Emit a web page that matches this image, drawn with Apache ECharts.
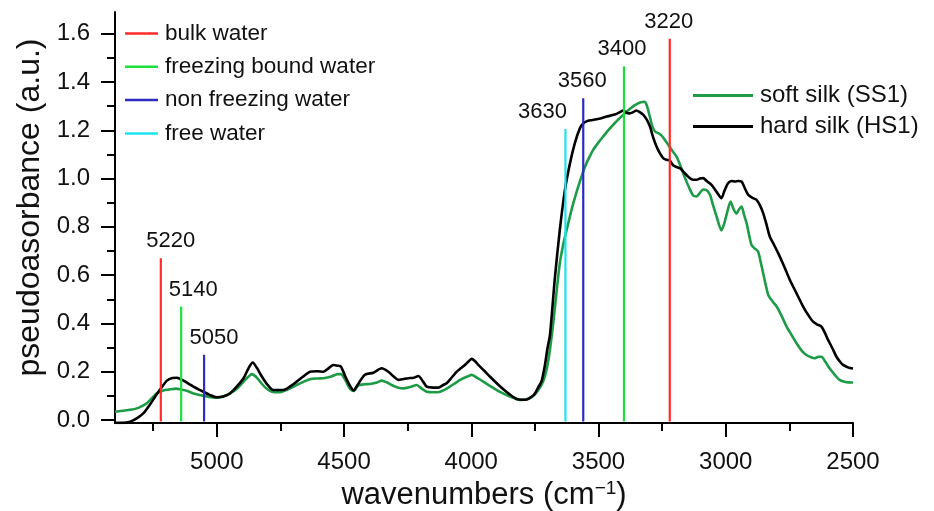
<!DOCTYPE html>
<html><head><meta charset="utf-8">
<script src="https://cdn.jsdelivr.net/npm/echarts@6/dist/echarts.min.js"></script>
<style>html,body{margin:0;padding:0;background:#fff}#c{width:934px;height:511px}</style>
</head><body><div id="c"></div><script>
// ---- data ----
const softWn = [5400,5370,5340,5314,5290,5275,5255,5236,5210,5183,5160,5144,5115,5092,5060,5039,5000,4975,4948,4920,4895,4875,4862,4845,4830,4810,4784,4751,4720,4686,4660,4634,4600,4581,4550,4525,4512,4495,4476,4463,4444,4420,4398,4370,4352,4330,4313,4290,4267,4240,4214,4195,4175,4150,4130,4105,4084,4060,4038,4015,3998,3975,3953,3925,3900,3875,3848,3825,3809,3790,3770,3750,3737,3724,3711,3700,3691,3678,3665,3652,3638,3625,3612,3599,3586,3573,3560,3547,3534,3521,3500,3482,3462,3442,3422,3403,3383,3364,3350,3337,3318,3308,3298,3288,3278,3265,3252,3239,3226,3210,3193,3177,3161,3145,3128,3115,3102,3089,3075,3062,3050,3036,3017,3007,2997,2981,2970,2958,2948,2938,2928,2918,2899,2886,2873,2863,2853,2843,2833,2815,2800,2780,2761,2740,2722,2700,2683,2665,2651,2635,2624,2608,2592,2570,2553,2530,2506,2500];
const softAbs = [0.034,0.038,0.042,0.048,0.06,0.069,0.09,0.11,0.122,0.127,0.13,0.127,0.12,0.11,0.102,0.097,0.092,0.097,0.11,0.13,0.159,0.18,0.19,0.178,0.159,0.135,0.117,0.115,0.127,0.145,0.158,0.169,0.172,0.173,0.18,0.19,0.19,0.165,0.128,0.12,0.143,0.148,0.149,0.155,0.163,0.155,0.145,0.135,0.131,0.137,0.145,0.13,0.117,0.115,0.115,0.125,0.138,0.155,0.169,0.18,0.187,0.173,0.159,0.14,0.124,0.11,0.097,0.088,0.083,0.085,0.09,0.105,0.124,0.145,0.18,0.23,0.29,0.4,0.53,0.65,0.73,0.788,0.845,0.898,0.945,0.988,1.03,1.064,1.093,1.119,1.15,1.174,1.2,1.223,1.245,1.264,1.283,1.299,1.308,1.315,1.318,1.295,1.255,1.215,1.195,1.188,1.178,1.16,1.14,1.115,1.09,1.05,1.005,0.965,0.93,0.926,0.94,0.955,0.952,0.933,0.89,0.843,0.785,0.81,0.85,0.905,0.875,0.855,0.872,0.884,0.85,0.815,0.725,0.71,0.698,0.655,0.608,0.56,0.518,0.49,0.47,0.43,0.387,0.35,0.318,0.285,0.269,0.26,0.256,0.262,0.262,0.24,0.214,0.185,0.166,0.157,0.155,0.155];

const hardWn = [5400,5370,5340,5310,5288,5265,5242,5220,5196,5175,5157,5140,5131,5110,5092,5070,5053,5030,5000,4975,4948,4920,4895,4875,4859,4842,4823,4800,4778,4738,4710,4686,4660,4634,4605,4581,4560,4542,4525,4512,4495,4476,4462,4450,4418,4385,4352,4326,4305,4287,4265,4247,4225,4208,4190,4175,4150,4130,4110,4097,4075,4057,4040,4025,4010,3998,3985,3972,3950,3927,3900,3874,3848,3822,3800,3782,3765,3750,3737,3724,3711,3700,3691,3671,3652,3632,3612,3593,3573,3560,3547,3528,3508,3488,3468,3448,3429,3416,3403,3390,3377,3364,3351,3338,3324,3311,3298,3285,3272,3259,3246,3233,3220,3207,3193,3180,3167,3150,3141,3128,3115,3102,3089,3075,3056,3036,3017,3005,2991,2977,2964,2951,2938,2925,2912,2895,2879,2866,2853,2840,2827,2810,2794,2770,2748,2722,2696,2676,2657,2640,2624,2610,2598,2580,2565,2550,2539,2520,2506,2500];
const hardAbs = [-0.012,-0.012,-0.007,0.01,0.028,0.06,0.097,0.13,0.163,0.174,0.175,0.168,0.163,0.15,0.138,0.126,0.117,0.105,0.094,0.097,0.11,0.14,0.173,0.215,0.238,0.215,0.18,0.145,0.124,0.124,0.14,0.159,0.18,0.2,0.202,0.2,0.215,0.228,0.225,0.221,0.18,0.14,0.122,0.14,0.187,0.196,0.214,0.2,0.18,0.166,0.17,0.173,0.175,0.182,0.16,0.138,0.134,0.134,0.145,0.152,0.178,0.2,0.215,0.228,0.243,0.253,0.243,0.228,0.205,0.18,0.152,0.127,0.105,0.087,0.084,0.085,0.095,0.11,0.135,0.16,0.225,0.3,0.35,0.594,0.788,0.953,1.064,1.147,1.209,1.228,1.237,1.242,1.246,1.25,1.257,1.262,1.268,1.275,1.282,1.272,1.27,1.275,1.282,1.275,1.264,1.245,1.216,1.17,1.133,1.105,1.085,1.078,1.075,1.055,1.048,1.043,1.029,1.01,1.002,0.995,0.995,1.0,1.002,0.99,0.974,0.945,0.919,0.95,0.981,0.99,0.988,0.99,0.988,0.96,0.933,0.92,0.912,0.89,0.857,0.81,0.76,0.725,0.691,0.635,0.58,0.525,0.47,0.435,0.407,0.395,0.387,0.36,0.332,0.295,0.262,0.24,0.228,0.218,0.214,0.213];

const markerWn   = [5220, 5140, 5050, 3630, 3560, 3400, 3220];
const markerTop  = [0.67, 0.47, 0.27, 1.205, 1.333, 1.465, 1.579];
const markerBase = [-0.006, -0.006, -0.006, -0.006, -0.006, -0.006, -0.006];
const markerType = ['bulk water','freezing bound water','non freezing water','free water','non freezing water','freezing bound water','bulk water'];
const waterTypes = ['bulk water','freezing bound water','non freezing water','free water'];
const silkNames  = ['soft silk (SS1)','hard silk (HS1)'];

const yMajor = [0, 0.2, 0.4, 0.6, 0.8, 1.0, 1.2, 1.4, 1.6];
const yMinor = [0.1, 0.3, 0.5, 0.7, 0.9, 1.1, 1.3, 1.5];
const xMajor = [5000, 4500, 4000, 3500, 3000, 2500];
const xMinor = [5250, 4750, 4250, 3750, 3250, 2750];

// ---- styles ----
const FONT = 'Liberation Sans, Arial, sans-serif';
const typeColor = {
  'bulk water': '#ff2a2a',
  'freezing bound water': '#1ee03c',
  'non freezing water': '#2b2bc4',
  'free water': '#1ce3f0'
};
const silkColor = ['#1e9b46', '#000000'];
const labelDx = [10, 12, 10, -23, -1, -2, -1];

const X_MIN = 2500, X_MAX = 5400, Y_MIN = -0.0125, Y_MAX = 1.69;

function zip(a, b) { return a.map((v, i) => [v, b[i]]); }

const series = [];
[[softWn, softAbs], [hardWn, hardAbs]].forEach((d, i) => {
  series.push({
    name: silkNames[i], type: 'line', data: zip(d[0], d[1]),
    symbol: 'none', smooth: 0.25, z: 3,
    lineStyle: { color: silkColor[i], width: 2.6 },
    itemStyle: { color: silkColor[i] }
  });
});
markerWn.forEach((w, i) => {
  const c = typeColor[markerType[i]];
  series.push({
    name: markerType[i], type: 'line', symbol: 'none', z: 4,
    data: [[w, markerBase[i]], [w, markerTop[i]]],
    lineStyle: { color: c, width: 2.2 }, itemStyle: { color: c }
  });
});
series.push({
  name: 'labels', type: 'scatter', symbol: 'circle', symbolSize: 0.001, z: 5,
  itemStyle: { color: '#000' },
  data: markerWn.map((w, i) => ({
    value: [w, markerTop[i]],
    label: { show: true, position: 'top', distance: 6, offset: [labelDx[i], 0],
      formatter: String(w), fontSize: 22, color: '#111', opacity: 1, fontFamily: FONT }
  }))
});

const axisCommonX = { type: 'value', min: X_MIN, max: X_MAX, inverse: true, position: 'bottom', splitLine: { show: false } };
const axisCommonY = { type: 'value', min: Y_MIN, max: Y_MAX, position: 'left', splitLine: { show: false } };

const option = {
  animation: false,
  backgroundColor: '#ffffff',
  grid: { left: 115, right: 81, top: 12, bottom: 88, containLabel: false, outerBoundsMode: 'none' },
  xAxis: [
    Object.assign({}, axisCommonX, {
      axisLine: { onZero: false, lineStyle: { color: '#000', width: 2 } },
      axisTick: { customValues: xMajor, length: 14, lineStyle: { color: '#000', width: 2 } },
      axisLabel: { customValues: xMajor, fontSize: 24, color: '#111', margin: 27, fontFamily: FONT,
        formatter: v => String(v) },
      name: 'wavenumbers (cm{sup|−1})', nameLocation: 'middle', nameGap: 52,
      nameTextStyle: { fontSize: 31, color: '#111', fontFamily: FONT,
        rich: { sup: { fontSize: 19, verticalAlign: 'top', padding: [0, 0, 14, 0], fontFamily: FONT, color: '#111' } } }
    }),
    Object.assign({}, axisCommonX, {
      axisLine: { show: false, onZero: false },
      axisTick: { customValues: xMinor, length: 8, lineStyle: { color: '#000', width: 2 } },
      axisLabel: { show: false }
    })
  ],
  yAxis: [
    Object.assign({}, axisCommonY, {
      axisLine: { show: true, onZero: false, lineStyle: { color: '#000', width: 2 } },
      axisTick: { show: true, customValues: yMajor, length: 14, lineStyle: { color: '#000', width: 2 } },
      axisLabel: { customValues: yMajor, fontSize: 24, color: '#111', margin: 25, fontFamily: FONT,
        formatter: v => v.toFixed(1) },
      name: 'pseudoasorbance (a.u.)', nameLocation: 'middle', nameGap: 67,
      nameTextStyle: { fontSize: 32, color: '#111', fontFamily: FONT, padding: [0, 0, 0, 20] }
    }),
    Object.assign({}, axisCommonY, {
      axisLine: { show: false, onZero: false },
      axisTick: { show: true, customValues: yMinor, length: 8, lineStyle: { color: '#000', width: 2 } },
      axisLabel: { show: false }
    })
  ],
  legend: [
    {
      data: waterTypes, orient: 'vertical', left: 125, top: 22, padding: 0,
      icon: 'rect', itemWidth: 33, itemHeight: 2.5, itemGap: 10.3, selectedMode: false,
      textStyle: { fontSize: 22.5, lineHeight: 22, color: '#111', fontFamily: FONT, padding: [0, 0, 0, 2] }
    },
    {
      data: silkNames, orient: 'vertical', left: 693, top: 83.5, padding: 0,
      icon: 'rect', itemWidth: 60, itemHeight: 3, itemGap: 7, selectedMode: false,
      textStyle: { fontSize: 24, lineHeight: 23, color: '#111', fontFamily: FONT, padding: [0, 0, 0, 2] }
    }
  ],
  series: series
};
const chart = echarts.init(document.getElementById('c'), null, { renderer: 'canvas' });
chart.setOption(option);
</script></body></html>
